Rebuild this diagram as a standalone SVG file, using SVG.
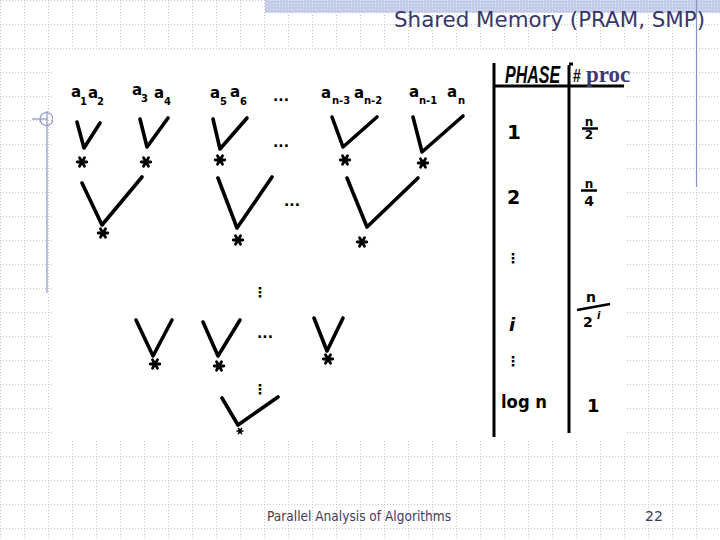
<svg xmlns="http://www.w3.org/2000/svg" width="720" height="540" viewBox="0 0 720 540">
<style>
.hw{font-family:"DejaVu Sans","Liberation Sans",sans-serif;font-weight:bold;fill:#000}
.lab{font-family:"DejaVu Sans","Liberation Sans",sans-serif;font-weight:bold;font-size:15px;fill:#000}
.sub{font-size:10px}
.v{fill:none;stroke:#000;stroke-width:3.6;stroke-linecap:round;stroke-linejoin:round}
.tl{fill:none;stroke:#000;stroke-width:3;stroke-linecap:butt}
.dots{font-family:"DejaVu Sans",sans-serif;font-weight:bold;font-size:14px;fill:#000}
</style>
<defs>
<pattern id="grid" x="0" y="0" width="24" height="24" patternUnits="userSpaceOnUse">
<path d="M0 0.5H24M0.5 0V24" stroke="#c6c6c6" stroke-width="1" stroke-dasharray="1 2" fill="none"/>
</pattern>
<pattern id="band" x="0" y="0" width="3" height="3" patternUnits="userSpaceOnUse">
<rect width="3" height="3" fill="#c2cce9"/>
<rect width="1" height="1" fill="#e4e9f6"/>
</pattern>
<g id="star">
<path d="M-4.8 0H4.8M-2.5 -4.3L2.5 4.3M-2.5 4.3L2.5 -4.3" stroke="#000" stroke-width="2.8" stroke-linecap="round"/>
</g>
</defs>
<rect width="720" height="540" fill="#fff"/>
<rect width="720" height="540" fill="url(#grid)"/>
<rect x="265" y="0" width="455" height="13" fill="url(#band)"/>
<line x1="696.5" y1="0" x2="696.5" y2="187" stroke="#8a94c4" stroke-width="1.2"/>
<g id="crosshair" fill="none" stroke="#8a94c4" stroke-width="1.2">
<circle cx="46.5" cy="119" r="6.5"/>
<line x1="32" y1="119" x2="47" y2="119"/>
<line x1="47" y1="111" x2="47" y2="293"/>
</g>
<text x="394" y="27" textLength="311" lengthAdjust="spacingAndGlyphs" font-family="DejaVu Sans, Liberation Sans, sans-serif" font-size="22" fill="#37376a">Shared Memory (PRAM, SMP)</text>

<rect x="53" y="49" width="572" height="391" fill="#fff"/>

<g id="connectors">
<polyline class="v" points="77,122 84,148 100,123"/>
<polyline class="v" points="140,119 147,147 168,118"/>
<polyline class="v" points="213,119 220,149 247,118"/>
<polyline class="v" points="332,117 343,147 377,117"/>
<polyline class="v" points="413,117 422,152 463,116"/>
<polyline class="v" points="82,183 102,225 142,177"/>
<polyline class="v" points="218,178 237,228 272,177"/>
<polyline class="v" points="347,178 367,227 418,178"/>
<polyline class="v" points="136,320 153,356 172,320"/>
<polyline class="v" points="203,322 218,356 240,320"/>
<polyline class="v" points="314,318 327,351 343,318"/>
<polyline class="v" points="222,398 238,425 278,397"/>
</g>

<g id="leaves">
<text class="lab"><tspan x="71" y="97">a</tspan><tspan class="sub" x="80" y="105">1</tspan><tspan x="88" y="98">a</tspan><tspan class="sub" x="97" y="105">2</tspan></text>
<text class="lab"><tspan x="132" y="95">a</tspan><tspan class="sub" x="141" y="102">3</tspan><tspan x="154" y="98">a</tspan><tspan class="sub" x="164" y="105">4</tspan></text>
<text class="lab"><tspan x="210" y="98">a</tspan><tspan class="sub" x="220" y="105">5</tspan><tspan x="230" y="97">a</tspan><tspan class="sub" x="240" y="105">6</tspan></text>
<text class="dots" x="273" y="101">...</text>
<text class="lab"><tspan x="321" y="98">a</tspan><tspan class="sub" x="332" y="104">n-3</tspan><tspan x="354" y="98">a</tspan><tspan class="sub" x="364" y="104">n-2</tspan></text>
<text class="lab"><tspan x="409" y="97">a</tspan><tspan class="sub" x="419" y="104">n-1</tspan><tspan x="447" y="97">a</tspan><tspan class="sub" x="458" y="104">n</tspan></text>
</g>

<g id="level1">
<use href="#star" x="82" y="162"/>
<use href="#star" x="146" y="162"/>
<use href="#star" x="220" y="160"/>
<text class="dots" x="273" y="147">...</text>
<use href="#star" x="345" y="160"/>
<use href="#star" x="423" y="163"/>
</g>

<g id="level2">
<use href="#star" x="103" y="233"/>
<use href="#star" x="238" y="240"/>
<text class="dots" x="284" y="206" font-size="17">...</text>
<use href="#star" x="362" y="242"/>
</g>

<g id="leveli">
<text class="dots" x="253" y="297" font-size="22">⋮</text>
<use href="#star" x="155" y="364"/>
<use href="#star" x="219" y="366"/>
<text class="dots" x="257" y="338">...</text>
<use href="#star" x="328" y="359"/>
<text class="dots" x="253" y="394" font-size="20">⋮</text>
</g>

<g id="root">
<use href="#star" x="0" y="0" transform="translate(240 431) scale(0.6)"/>
</g>

<g id="table">
<line class="tl" x1="494" y1="63" x2="494" y2="437"/>
<line class="tl" x1="569" y1="65" x2="569" y2="433"/>
<line class="tl" x1="569" y1="64" x2="573" y2="64"/>
<line class="tl" x1="494" y1="86" x2="624" y2="86"/>
<text transform="translate(505 83) scale(1 1.5)" x="0" y="0" font-family="Liberation Sans, Arial, sans-serif" font-weight="bold" font-style="italic" font-size="16" fill="#000">PHASE</text>
<text transform="translate(573 82) scale(1 1.3)" x="0" y="0" font-family="Liberation Sans, Arial, sans-serif" font-weight="bold" font-size="14" fill="#000">#</text>
<text x="586" y="82" font-family="Liberation Serif, serif" font-weight="bold" font-size="23" fill="#3c3c72">proc</text>
</g>

<g id="phase-1">
<text class="hw" x="507" y="139" font-size="20">1</text>
<text class="hw" x="589" y="126" font-size="12" text-anchor="middle">n</text>
<line x1="582" y1="128.5" x2="598" y2="128.5" stroke="#000" stroke-width="2.5"/>
<text class="hw" x="589" y="139" font-size="12" text-anchor="middle">2</text>
</g>
<g id="phase-2">
<text class="hw" x="507" y="204" font-size="19">2</text>
<text class="hw" x="589" y="188" font-size="12" text-anchor="middle">n</text>
<line x1="581" y1="190.5" x2="597" y2="190.5" stroke="#000" stroke-width="2.5"/>
<text class="hw" x="589" y="206" font-size="14" text-anchor="middle">4</text>
</g>
<g id="phase-dots">
<text class="dots" x="506" y="263" font-size="20">⋮</text>
</g>
<g id="phase-i">
<text class="hw" x="509" y="331" font-size="18" font-style="italic">i</text>
<text class="hw" x="591" y="302" font-size="14" text-anchor="middle">n</text>
<line x1="577" y1="310" x2="610" y2="304" stroke="#000" stroke-width="2.5"/>
<text><tspan class="hw" x="583" y="327" font-size="14">2</tspan><tspan class="hw" x="597" y="319" font-size="10" font-style="italic">i</tspan></text>
<text class="dots" x="506" y="366" font-size="16">⋮</text>
</g>
<g id="phase-log">
<text class="hw" x="501" y="408" font-size="18" textLength="46" lengthAdjust="spacingAndGlyphs">log n</text>
<text class="hw" x="587" y="412" font-size="18">1</text>
</g>

<text x="267" y="521" textLength="184" lengthAdjust="spacingAndGlyphs" font-family="DejaVu Sans, Liberation Sans, sans-serif" font-size="14" fill="#3d3d5c">Parallel Analysis of Algorithms</text>
<text x="645" y="521" font-family="DejaVu Sans, Liberation Sans, sans-serif" font-size="14" fill="#3d3d5c">22</text>
</svg>
